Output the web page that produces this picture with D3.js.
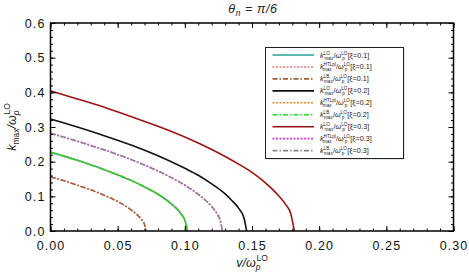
<!DOCTYPE html>
<html><head><meta charset="utf-8">
<script src="https://cdn.jsdelivr.net/npm/d3@7"></script>
<style>body{margin:0;background:#fff}svg{display:block}text{font-family:"Liberation Sans",Arial,sans-serif}</style>
</head><body><svg id="c" width="469" height="273"></svg>
<script>
// Data: [v/ω_p^LO, k_max/ω_p^LO]
const xTicks = [0, 0.05, 0.10, 0.15, 0.20, 0.25, 0.30];
const yTicks = [0, 0.1, 0.2, 0.3, 0.4, 0.5, 0.6];
const curveXi3LO = [[0,.404],[.02,.381],[.04,.357],[.06,.330],[.08,.302],[.10,.271],[.12,.235],[.14,.193],[.15,.169],[.16,.139],[.17,.101],[.175,.077],[.179,.048],[.1815,0]];
const curveXi2LO = [[0,.323],[.02,.300],[.04,.275],[.06,.248],[.08,.217],[.10,.181],[.11,.161],[.12,.136],[.13,.107],[.135,.088],[.14,.066],[.144,.038],[.146,0]];
const curveXi3B  = [[0,.282],[.02,.259],[.04,.234],[.06,.206],[.08,.173],[.09,.154],[.10,.132],[.11,.106],[.115,.090],[.12,.0705],[.124,.050],[.126,.035],[.128,0]];
const curveXi2B  = [[0,.227],[.01,.216],[.02,.204],[.03,.191],[.04,.177],[.05,.162],[.06,.146],[.07,.127],[.08,.106],[.085,.093],[.09,.078],[.095,.060],[.098,.045],[.100,.032],[.102,0]];
const curveXi1B  = [[0,.156],[.01,.145],[.02,.132],[.03,.119],[.04,.103],[.05,.085],[.055,.074],[.06,.061],[.065,.045],[.068,.032],[.070,.019],[.071,0]];
// series in legend order
const series = [
  {sup:"LO",  xi:"0.1", data:curveXi2B,  color:"#2aa198", dash:null},
  {sup:"HTLpl",xi:"0.1",data:curveXi1B,  color:"#e07a7a", dash:"2,1.5"},
  {sup:"LB",  xi:"0.1", data:curveXi1B,  color:"#a0603a", dash:"5,2,1.5,2"},
  {sup:"LO",  xi:"0.2", data:curveXi2LO, color:"#111111", dash:null},
  {sup:"HTLpl",xi:"0.2",data:curveXi2B,  color:"#e8892a", dash:"2,1.5"},
  {sup:"LB",  xi:"0.2", data:curveXi2B,  color:"#22dd22", dash:"5,2,1.5,2"},
  {sup:"LO",  xi:"0.3", data:curveXi3LO, color:"#9a1414", dash:null},
  {sup:"HTLpl",xi:"0.3",data:curveXi3B,  color:"#e030e0", dash:"2,1.5"},
  {sup:"LB",  xi:"0.3", data:curveXi3B,  color:"#888888", dash:"5,2,1.5,2"}
];

const svg = d3.select("#c");
const L=50.5, R=453.5, T=23, B=231;
const x = d3.scaleLinear().domain([0,0.3]).range([L,R]);
const y = d3.scaleLinear().domain([0,0.6]).range([B,T]);

// curves
const line = d3.line().x(d=>x(d[0])).y(d=>y(d[1])).curve(d3.curveMonotoneX);
const cg = svg.append("g");
series.forEach(s=>{
  cg.append("path").attr("d",line(s.data)).attr("fill","none")
    .attr("stroke",s.color).attr("stroke-width",1.6)
    .attr("stroke-dasharray",s.dash);
});

// axes with inward ticks
const fmtX = d3.format(".2f"), fmtY = d3.format(".1f");
function minorTicks(a,b,step){const r=[];for(let v=a;v<=b+1e-9;v+=step)r.push(+v.toFixed(4));return r;}
const ax = svg.append("g");
const xMinor = minorTicks(0,0.3,0.01), yMinor = minorTicks(0,0.6,0.02);
ax.append("g").attr("transform",`translate(0,${B})`).call(d3.axisBottom(x).tickValues(xMinor).tickSize(-2.5).tickFormat(""));
ax.append("g").attr("transform",`translate(0,${B})`).call(d3.axisBottom(x).tickValues(xTicks).tickSize(-5).tickPadding(10).tickFormat(fmtX));
ax.append("g").attr("transform",`translate(0,${T})`).call(d3.axisTop(x).tickValues(xMinor).tickSize(-2.5).tickFormat(""));
ax.append("g").attr("transform",`translate(0,${T})`).call(d3.axisTop(x).tickValues(xTicks).tickSize(-5).tickFormat(""));
ax.append("g").attr("transform",`translate(${L},0)`).call(d3.axisLeft(y).tickValues(yMinor).tickSize(-2.5).tickFormat(""));
ax.append("g").attr("transform",`translate(${L},0)`).call(d3.axisLeft(y).tickValues(yTicks).tickSize(-5).tickPadding(5).tickFormat(fmtY));
ax.append("g").attr("transform",`translate(${R},0)`).call(d3.axisRight(y).tickValues(yMinor).tickSize(-2.5).tickFormat(""));
ax.append("g").attr("transform",`translate(${R},0)`).call(d3.axisRight(y).tickValues(yTicks).tickSize(-5).tickFormat(""));
ax.selectAll(".domain").remove();
ax.selectAll(".tick line").attr("stroke","#000").attr("stroke-width",1);
ax.selectAll(".tick text").attr("font-size",12.5).attr("letter-spacing","1.1px").attr("fill","#111").attr("font-family","Liberation Sans, Arial, sans-serif");
svg.append("rect").attr("x",L).attr("y",T).attr("width",R-L).attr("height",B-T)
  .attr("fill","none").attr("stroke","#000").attr("stroke-width",1.5);

// title
const title = svg.append("text").attr("x",253).attr("y",13).attr("text-anchor","middle")
  .attr("font-size",12.5).attr("letter-spacing","0.6px").attr("font-style","italic").attr("fill","#222");
title.append("tspan").text("θ");
title.append("tspan").attr("font-size",8.5).attr("dy",3).text("n");
title.append("tspan").attr("dy",-3).text(" = π/6");

// x label
const xl = svg.append("text").attr("x",252).attr("y",267).attr("text-anchor","middle")
  .attr("font-size",12.5).attr("font-style","italic").attr("fill","#222");
xl.append("tspan").text("v/ω");
xl.append("tspan").attr("font-size",8.5).attr("dy",3).text("p");
xl.append("tspan").attr("font-size",8.5).attr("font-style","normal").attr("dy",-9).attr("dx",-4).text("LO");

// y label
const yl = svg.append("text").attr("transform","translate(16,127) rotate(-90)").attr("text-anchor","middle")
  .attr("font-size",12.5).attr("font-style","italic").attr("fill","#222");
yl.append("tspan").text("k");
yl.append("tspan").attr("font-size",8.5).attr("font-style","normal").attr("dy",3).text("max");
yl.append("tspan").attr("dy",-3).text("/ω");
yl.append("tspan").attr("font-size",8.5).attr("dy",3).text("p");
yl.append("tspan").attr("font-size",8.5).attr("font-style","normal").attr("dy",-9).attr("dx",-4).text("LO");

// legend
const lg = svg.append("g");
lg.append("rect").attr("x",266.5).attr("y",48.5).attr("width",138).attr("height",111).attr("fill","#999").attr("opacity",0.5);
lg.append("rect").attr("x",265.5).attr("y",47.5).attr("width",138).attr("height",111).attr("fill","#fff").attr("stroke","#222").attr("stroke-width",1);
series.forEach((s,i)=>{
  const yy = 55 + i*11.95;
  lg.append("line").attr("x1",272.5).attr("x2",314).attr("y1",yy).attr("y2",yy)
    .attr("stroke",s.color).attr("stroke-width",1.6).attr("stroke-dasharray",s.dash);
  const t = lg.append("text").attr("x",320).attr("y",yy+2.5).attr("font-size",7.2).attr("fill","#222");
  t.append("tspan").attr("font-style","italic").text("k");
  t.append("tspan").attr("font-size",4.6).attr("dy",-3).text(s.sup);
  t.append("tspan").attr("font-size",4.6).attr("dy",5).attr("dx",-(s.sup.length*2.6)).text("max");
  t.append("tspan").attr("dy",-2).attr("dx", s.sup.length>3?4.5:0.3).text("/");
  t.append("tspan").attr("font-style","italic").text("ω");
  t.append("tspan").attr("font-size",4.6).attr("dy",-3).text("LO");
  t.append("tspan").attr("font-size",4.6).attr("dy",5).attr("dx",-5).text("p");
  t.append("tspan").attr("dy",-2).attr("dx",3).text("[ξ=" + s.xi + "]");
});
</script></body></html>
